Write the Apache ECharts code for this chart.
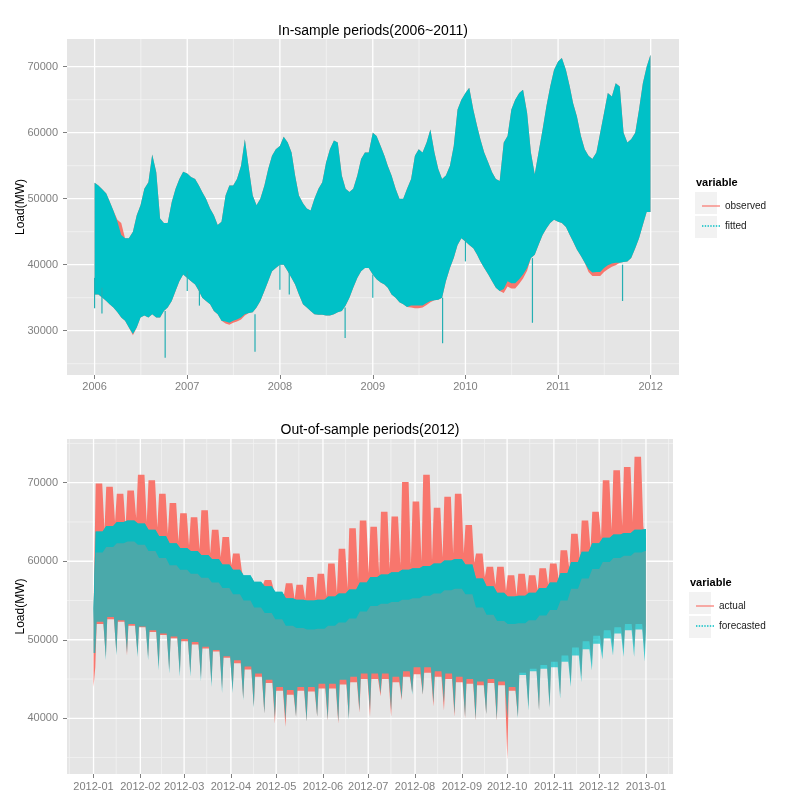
<!DOCTYPE html>
<html><head><meta charset="utf-8">
<script src="https://cdn.jsdelivr.net/npm/echarts@6/dist/echarts.min.js"></script>
<style>html,body{margin:0;padding:0;background:#fff}#c{width:800px;height:800px}</style>
</head><body><div id="c"></div>
<script>
// ---------------- In-sample (2006~2011): envelope of the hourly series, half-month samples ----------------
const topDates = [
'2006-01-01','2006-01-16','2006-02-01','2006-02-16','2006-03-01','2006-03-16','2006-04-01','2006-04-16','2006-05-01','2006-05-16','2006-06-01','2006-06-16','2006-07-01','2006-07-16','2006-08-01','2006-08-16','2006-09-01','2006-09-16','2006-10-01','2006-10-16','2006-11-01','2006-11-16','2006-12-01','2006-12-16',
'2007-01-01','2007-01-16','2007-02-01','2007-02-16','2007-03-01','2007-03-16','2007-04-01','2007-04-16','2007-05-01','2007-05-16','2007-06-01','2007-06-16','2007-07-01','2007-07-16','2007-08-01','2007-08-16','2007-09-01','2007-09-16','2007-10-01','2007-10-16','2007-11-01','2007-11-16','2007-12-01','2007-12-16',
'2008-01-01','2008-01-16','2008-02-01','2008-02-16','2008-03-01','2008-03-16','2008-04-01','2008-04-16','2008-05-01','2008-05-16','2008-06-01','2008-06-16','2008-07-01','2008-07-16','2008-08-01','2008-08-16','2008-09-01','2008-09-16','2008-10-01','2008-10-16','2008-11-01','2008-11-16','2008-12-01','2008-12-16',
'2009-01-01','2009-01-16','2009-02-01','2009-02-16','2009-03-01','2009-03-16','2009-04-01','2009-04-16','2009-05-01','2009-05-16','2009-06-01','2009-06-16','2009-07-01','2009-07-16','2009-08-01','2009-08-16','2009-09-01','2009-09-16','2009-10-01','2009-10-16','2009-11-01','2009-11-16','2009-12-01','2009-12-16',
'2010-01-01','2010-01-16','2010-02-01','2010-02-16','2010-03-01','2010-03-16','2010-04-01','2010-04-16','2010-05-01','2010-05-16','2010-06-01','2010-06-16','2010-07-01','2010-07-16','2010-08-01','2010-08-16','2010-09-01','2010-09-16','2010-10-01','2010-10-16','2010-11-01','2010-11-16','2010-12-01','2010-12-16',
'2011-01-01','2011-01-16','2011-02-01','2011-02-16','2011-03-01','2011-03-16','2011-04-01','2011-04-16','2011-05-01','2011-05-16','2011-06-01','2011-06-16','2011-07-01','2011-07-16','2011-08-01','2011-08-16','2011-09-01','2011-09-16','2011-10-01','2011-10-16','2011-11-01','2011-11-16','2011-12-01','2011-12-16',
'2011-12-31'];
const fitHi = [
52400,52000,51400,50800,49600,48200,46500,44500,44000,44000,45000,47500,49000,51500,52500,56700,54000,47000,46300,46300,49500,51500,53000,54100,
53800,53300,53000,52000,51000,50000,48500,47500,46000,46500,50500,52000,52000,53000,55000,59000,54500,50500,49000,50000,52000,54500,56500,57500,
58000,59400,58500,57000,53500,50500,49300,48500,48200,50000,51500,52500,55500,57500,58800,58500,53500,51500,51000,51500,53500,56000,57000,57000,
60000,59500,58000,56500,55000,53500,51500,50000,50000,51500,53000,56500,57500,57000,58500,60500,57000,54500,53000,53500,55000,58000,63500,65000,
66000,66800,63500,61000,59000,57000,55500,54000,53000,52700,58500,59500,63500,65000,66000,66500,63000,57000,53700,57000,60500,64000,67000,69500,
70800,71300,69500,67000,64500,62500,59500,57500,56500,56000,57000,60000,63000,66000,65500,67500,67000,60000,58500,59000,60000,63500,67500,70000,
71800];
const fitLo = [
35500,35500,35000,34500,34000,33500,32800,32000,31500,30500,29500,30500,32000,32300,32000,32500,32000,32000,33000,33500,34500,36000,37500,38500,
38000,37500,37000,36000,35000,34500,34000,33000,32500,31500,31400,31200,31500,31700,32000,32500,32700,32800,33500,34500,36000,37500,39000,39500,
40000,40000,39000,38000,37000,35500,34000,33500,33000,32500,32400,32400,32300,32300,32500,32800,33000,33800,35000,36500,38000,39000,39500,39500,
38500,37800,37300,37000,36500,35500,35000,34300,34000,33600,33800,33800,33800,33800,34200,34500,34600,34700,35000,37500,39500,41000,43000,44000,
43500,43000,42500,41500,40500,39500,38500,37500,36500,36000,36300,37500,37200,37200,37800,38500,39500,41000,41500,43000,44500,45500,46300,46800,
46500,46300,45700,44500,43500,42300,41300,40300,39300,38800,38900,38900,39500,39900,40200,40300,40300,40400,40500,41000,42500,44000,46000,48000,
48000];
const obsHi = [
52400,52000,51400,50800,49600,48200,46800,46300,44000,44000,45000,47500,49000,51500,52500,56700,54000,47000,46300,46300,49500,51500,53000,54100,
53800,53300,53000,52000,51000,50000,48500,47500,46000,46500,50500,52000,52000,53000,55000,59000,54500,50500,49000,50000,52000,54500,56500,57500,
58000,59400,58500,57000,53500,50500,49300,48500,48200,50000,51500,52500,55500,57500,58800,58500,53500,51500,51000,51500,53500,56000,57000,57000,
60000,59500,58000,56500,55000,53500,51500,50000,50000,51500,53000,56500,57500,57000,58500,60500,57000,54500,53000,53500,55000,58000,63500,65000,
66000,66800,63500,61000,59000,57000,55500,54000,53000,52700,58500,59500,63500,65000,66000,66500,63000,57000,53700,57000,60500,64000,67000,69500,
70800,71300,69500,67000,64500,62500,59500,57500,56500,56000,57000,60000,63000,66000,65500,67500,67000,60000,58500,59000,60000,63500,67500,70000,
71800];
const obsLo = [
35500,35500,35000,34500,34000,33500,32800,32000,31500,30500,29300,30500,32000,32300,32000,32500,32000,32000,33000,33500,34500,36000,37500,38500,
38000,37500,37000,36000,35000,34500,34000,33000,32500,31500,31100,30900,31200,31400,31700,32300,32700,32800,33500,34500,36000,37500,39000,39500,
40000,40000,39000,38000,37000,35500,34000,33500,33000,32500,32400,32400,32300,32300,32500,32800,33000,33800,35000,36500,38000,39000,39500,39500,
38500,37800,37300,37000,36500,35500,35000,34300,34000,33600,33500,33400,33400,33500,33900,34300,34600,34700,35000,37500,39500,41000,43000,44000,
43500,43000,42500,41500,40500,39500,38500,37500,36500,36000,35700,36700,36400,36400,37100,37900,39100,41000,41500,43000,44500,45500,46300,46800,
46500,46300,45700,44500,43500,42300,41300,40300,38900,38300,38300,38300,38900,39300,39700,39900,40300,40400,40500,41000,42500,44000,46000,48000,
48000];
// holiday dips (thin downward spikes)
const topSpikeDates = ['2006-01-01','2006-01-30','2006-10-06','2007-01-01','2007-02-18','2007-09-25','2008-01-01','2008-02-07','2008-09-14','2009-01-01','2009-10-03','2010-01-01','2010-09-22','2011-09-12'];
const topSpikeLo = [33400,32600,25900,36000,33800,26800,36200,35500,28900,35000,28100,40500,31200,34500];
const topSpikeHi = [38000,36500,33000,39000,37000,32500,40000,39000,33500,38500,35000,44000,41000,40000];

// ---------------- Out-of-sample (2012): weekly readings (weeks start on Mondays) ----------------
const weekStarts = ['2012-01-02','2012-01-09','2012-01-16','2012-01-23','2012-01-30','2012-02-06','2012-02-13','2012-02-20','2012-02-27','2012-03-05','2012-03-12','2012-03-19','2012-03-26','2012-04-02','2012-04-09','2012-04-16','2012-04-23','2012-04-30','2012-05-07','2012-05-14','2012-05-21','2012-05-28','2012-06-04','2012-06-11','2012-06-18','2012-06-25','2012-07-02','2012-07-09','2012-07-16','2012-07-23','2012-07-30','2012-08-06','2012-08-13','2012-08-20','2012-08-27','2012-09-03','2012-09-10','2012-09-17','2012-09-24','2012-10-01','2012-10-08','2012-10-15','2012-10-22','2012-10-29','2012-11-05','2012-11-12','2012-11-19','2012-11-26','2012-12-03','2012-12-10','2012-12-17','2012-12-24','2012-12-31'];
const jan1Actual = [44000, 53800];          // Jan 1 holiday: low, high
const jan1Forecast = [48300, 52000, 54000]; // low, dense-core bottom, high
const actHi = [69900,69500,68600,69000,71000,70300,68600,67400,66100,65600,66500,64000,63100,
 61000,58000,57200,57600,55900,57200,57000,58000,58400,59700,61600,64200,65200,
 64400,66300,65700,70100,67600,71000,66800,68200,68600,64600,61000,59300,59300,
 58200,58400,58200,59100,59700,61400,63500,65200,66300,70300,71600,72000,73300,63000];
const actSun = [64000,65000,64500,65500,65000,64300,63500,62500,62000,61500,61000,60500,59500,
 58800,57800,57000,56500,55800,55200,55200,55300,55500,56000,56500,57500,58500,
 58300,59000,59500,59600,60000,60200,60500,61000,61000,59800,58000,57000,56200,
 55700,56000,56300,57000,57600,59000,60300,61500,63000,64000,64500,65000,64500];
const actLow = [52000,52600,52300,51800,51600,51000,50600,50200,49800,49400,48900,48500,47700,
 47000,46200,45300,44500,43500,43000,43500,43400,43800,43800,44300,44600,45000,
 45000,45000,44600,45300,45600,45800,45300,45000,44600,44400,44200,44500,44200,
 43500,45800,46300,46800,47200,48000,49000,49800,50500,51200,51600,52000,52000,52000];
const actDip = [46500,47800,48300,48000,48200,47800,46600,46200,45800,45800,45200,44500,43800,
 43600,42500,41500,40600,39300,38900,40200,39600,40200,39700,39300,40000,40700,
 40200,42800,40200,42300,43300,43000,41500,41000,40200,40000,39700,40500,39700,
 34700,40200,41500,41000,41500,43000,44500,45300,47000,48300,49000,48700,49000,48500];
const fcTop = [63800,64500,65000,65200,64800,64000,63200,62300,61700,61300,60800,60300,59600,
 58900,58200,57400,56800,56100,55300,55100,55000,55100,55500,55900,56400,57300,
 58000,58300,58600,58900,59100,59400,59700,60100,60300,59600,57800,56800,56000,
 55500,55600,56000,56600,57300,58500,59900,61200,62300,63000,63400,63600,64000,64100];
const fcMid = [61100,61800,62300,62500,62100,61300,60400,59500,58900,58400,57900,57300,56600,
 55800,55000,54100,53400,52600,51800,51500,51300,51400,51800,52200,52700,53600,
 54300,54600,54800,55100,55300,55600,55900,56300,56500,55800,54100,53200,52400,
 52000,52100,52500,53100,53800,55000,56500,57800,59000,59900,60400,60700,61100,61300];
const fcLow = [52300,52900,52500,52000,51700,51200,50800,50400,50100,49700,49100,48700,47900,
 47400,46600,45700,44900,44000,43600,44000,44000,44400,44400,44900,45300,45700,
 45700,45700,45300,46000,46500,46500,46000,45700,45300,45000,44700,45000,44700,
 44000,45500,46000,46300,46500,47200,48000,48800,49500,50200,50800,51200,51300,51000];
const fcDip = [48300,47400,48000,48300,47800,47400,46100,45700,45300,45300,44700,44000,43200,
 43200,42300,41300,40600,40000,39800,40200,39600,40200,39800,39600,39800,41000,
 41000,43200,41000,42500,43000,43000,42000,42000,40600,40200,39800,40500,39800,
 40000,40000,41000,41000,41300,42500,44000,44600,46100,47500,48000,47800,47800,47200];

// ---------------- axes ----------------
const yearTicks = ['2006-01-01','2007-01-01','2008-01-01','2009-01-01','2010-01-01','2011-01-01','2012-01-01'];
const yearMinor = ['2006-07-02','2007-07-02','2008-07-02','2009-07-02','2010-07-02','2011-07-02'];
const monthTicks = ['2012-01-01','2012-02-01','2012-03-01','2012-04-01','2012-05-01','2012-06-01','2012-07-01','2012-08-01','2012-09-01','2012-10-01','2012-11-01','2012-12-01','2013-01-01'];
const monthMinor = ['2011-12-16','2012-01-16','2012-02-15','2012-03-16','2012-04-16','2012-05-16','2012-06-16','2012-07-16','2012-08-16','2012-09-16','2012-10-16','2012-11-16','2012-12-16','2013-01-16'];
const yTicksTop = [30000,40000,50000,60000,70000];
const yMinorTop = [25000,35000,45000,55000,65000];
const yTicksBottom = [40000,50000,60000,70000];
const yMinorBottom = [35000,45000,55000,65000,75000];

// ---------------- build ----------------
const FONT = '"Liberation Sans", Arial, sans-serif';
const RED = '#F8766D', CYAN = '#00BFC4';
const HOUR = 3600000, DAY = 24 * HOUR;
const ts = s => { const p = s.split('-').map(Number); return Date.UTC(p[0], p[1] - 1, p[2]); };

const tX = topDates.map(ts);
const pairs = (xs, ys) => xs.map((t, i) => [t, ys[i]]);

const wk = weekStarts.map(ts);
const last = wk.length - 1;
const jan1 = ts('2012-01-01');
function topEdge(hi, sun, first) {
  const p = [[jan1, first]];
  wk.forEach((m, k) => {
    p.push([m + 10 * HOUR, hi[k]]);
    if (k < last) { p.push([m + 4 * DAY + 18 * HOUR, hi[k]]); p.push([m + 6 * DAY + 6 * HOUR, sun[k]]); }
    else p.push([m + 23 * HOUR, hi[k]]);
  });
  return p;
}
function flatEdge(v, first) {
  const p = [[jan1, first]];
  wk.forEach((m, k) => {
    p.push([m + 10 * HOUR, v[k]]);
    p.push([k < last ? m + 5 * DAY : m + 23 * HOUR, v[k]]);
  });
  return p;
}
function lowEdge(low, dip, first) {
  const p = [[jan1, first]];
  wk.forEach((m, k) => {
    p.push([m + 4 * HOUR, dip[k]]);
    if (k < last) { p.push([m + DAY + 2 * HOUR, low[k]]); p.push([m + 5 * DAY + 12 * HOUR, low[k]]); }
    else p.push([m + 23 * HOUR, low[k]]);
  });
  return p;
}

function band(idx, upper, lower, fill, z) {
  const pts = upper.concat(lower.slice().reverse());
  return {
    type: 'custom', xAxisIndex: idx, yAxisIndex: idx, z: z, silent: true, clip: true,
    data: [pts[0]],
    renderItem: function (params, api) {
      return { type: 'polygon', shape: { points: pts.map(p => api.coord(p)) }, style: { fill: fill } };
    }
  };
}
function hLines(idx, vals, xRef, color, w, z) {
  return {
    type: 'custom', xAxisIndex: idx, yAxisIndex: idx, z: z, silent: true,
    data: vals.map(v => [xRef, v]),
    renderItem: function (params, api) {
      const cs = params.coordSys;
      const yy = api.coord([api.value(0), api.value(1)])[1];
      return { type: 'line', shape: { x1: cs.x, y1: yy, x2: cs.x + cs.width, y2: yy }, style: { stroke: color, lineWidth: w } };
    }
  };
}
function vLines(idx, vals, yRef, color, w, z) {
  return {
    type: 'custom', xAxisIndex: idx, yAxisIndex: idx, z: z, silent: true,
    data: vals.map(v => [ts(v), yRef]),
    renderItem: function (params, api) {
      const cs = params.coordSys;
      const xx = api.coord([api.value(0), api.value(1)])[0];
      return { type: 'line', shape: { x1: xx, y1: cs.y, x2: xx, y2: cs.y + cs.height }, style: { stroke: color, lineWidth: w } };
    }
  };
}
function spikes(idx, dates, lo, hi, color, z) {
  return {
    type: 'custom', xAxisIndex: idx, yAxisIndex: idx, z: z, silent: true, clip: true,
    data: dates.map((d, i) => [ts(d), lo[i], hi[i]]),
    renderItem: function (params, api) {
      const a = api.coord([api.value(0), api.value(1)]);
      const b = api.coord([api.value(0), api.value(2)]);
      return { type: 'line', shape: { x1: a[0], y1: a[1], x2: b[0], y2: b[1] }, style: { stroke: color, lineWidth: 1.2 } };
    }
  };
}

const MAJ = '#FFFFFF', MIN = '#F2F2F2';
const axisLbl = { color: '#7F7F7F', fontSize: 11, fontFamily: FONT };
const tick = { show: true, length: 4, lineStyle: { color: '#7F7F7F', width: 1 } };
const pad2 = n => (n < 10 ? '0' + n : '' + n);

// legend key glyphs: a solid and a dotted horizontal stroke
const SOLID_ICON = 'path://M0,0H18V1.2H0Z';
let dots = '';
for (let x = 0; x < 18; x += 2.6) dots += 'M' + x + ',0H' + (x + 1.3) + 'V1.2H' + x + 'Z';
const DOT_ICON = 'path://' + dots;

const topXMin = Date.UTC(2005, 8, 14, 7), topXMax = Date.UTC(2012, 3, 21, 10);
const botXMin = Date.UTC(2011, 11, 14, 10), botXMax = Date.UTC(2013, 0, 18, 22);

const yName = { name: 'Load(MW)', nameLocation: 'middle', nameGap: 40, nameRotate: 90, nameMoveOverlap: false,
  nameTextStyle: { fontSize: 12, color: '#000', fontFamily: FONT } };
const legendText = { fontSize: 10, color: '#1A1A1A', fontFamily: FONT };

const option = {
  animation: false,
  backgroundColor: '#FFFFFF',
  grid: [
    { left: 67, top: 39, width: 612, height: 336, show: true, backgroundColor: '#E5E5E5', borderWidth: 0, containLabel: false, outerBoundsMode: 'none' },
    { left: 67, top: 439, width: 606, height: 335, show: true, backgroundColor: '#E5E5E5', borderWidth: 0, containLabel: false, outerBoundsMode: 'none' }
  ],
  xAxis: [
    { type: 'value', gridIndex: 0, min: topXMin, max: topXMax, scale: true,
      axisLine: { show: false }, splitLine: { show: false },
      axisTick: Object.assign({ customValues: yearTicks.map(ts) }, tick),
      axisLabel: Object.assign({ customValues: yearTicks.map(ts), margin: 6,
        formatter: v => String(new Date(v).getUTCFullYear()) }, axisLbl) },
    { type: 'value', gridIndex: 1, min: botXMin, max: botXMax, scale: true,
      axisLine: { show: false }, splitLine: { show: false },
      axisTick: Object.assign({ customValues: monthTicks.map(ts) }, tick),
      axisLabel: Object.assign({ customValues: monthTicks.map(ts), margin: 7,
        formatter: v => { const d = new Date(v); return d.getUTCFullYear() + '-' + pad2(d.getUTCMonth() + 1); } }, axisLbl) }
  ],
  yAxis: [
    Object.assign({ type: 'value', gridIndex: 0, min: 23288, max: 74197,
      axisLine: { show: false }, splitLine: { show: false },
      axisTick: Object.assign({ customValues: yTicksTop }, tick),
      axisLabel: Object.assign({ customValues: yTicksTop, margin: 9, formatter: v => String(v) }, axisLbl) }, yName),
    Object.assign({ type: 'value', gridIndex: 1, min: 32907, max: 75565,
      axisLine: { show: false }, splitLine: { show: false },
      axisTick: Object.assign({ customValues: yTicksBottom }, tick),
      axisLabel: Object.assign({ customValues: yTicksBottom, margin: 9, formatter: v => String(v) }, axisLbl) }, yName)
  ],
  legend: [
    { data: [{ name: 'observed', icon: SOLID_ICON }, { name: 'fitted', icon: DOT_ICON }], orient: 'vertical', left: 697, top: 196,
      itemWidth: 18, itemHeight: 14, itemGap: 10, symbolKeepAspect: true, selectedMode: false, textStyle: legendText },
    { data: [{ name: 'actual', icon: SOLID_ICON }, { name: 'forecasted', icon: DOT_ICON }], orient: 'vertical', left: 691, top: 596,
      itemWidth: 18, itemHeight: 14, itemGap: 10, symbolKeepAspect: true, selectedMode: false, textStyle: legendText }
  ],
  graphic: [
    { type: 'rect', z: -1, shape: { x: 695, y: 192, width: 22, height: 22 }, style: { fill: '#F2F2F2' } },
    { type: 'rect', z: -1, shape: { x: 695, y: 216, width: 22, height: 22 }, style: { fill: '#F2F2F2' } },
    { type: 'rect', z: -1, shape: { x: 689, y: 592, width: 22, height: 22 }, style: { fill: '#F2F2F2' } },
    { type: 'rect', z: -1, shape: { x: 689, y: 616, width: 22, height: 22 }, style: { fill: '#F2F2F2' } },
    { type: 'text', x: 373, y: 31, style: { text: 'In-sample periods(2006~2011)', font: '14px ' + FONT, fill: '#000', align: 'center', verticalAlign: 'middle', textAlign: 'center', textVerticalAlign: 'middle' } },
    { type: 'text', x: 370, y: 430, style: { text: 'Out-of-sample periods(2012)', font: '14px ' + FONT, fill: '#000', align: 'center', verticalAlign: 'middle', textAlign: 'center', textVerticalAlign: 'middle' } },
    { type: 'text', x: 696, y: 183, style: { text: 'variable', font: 'bold 11px ' + FONT, fill: '#000', verticalAlign: 'middle', textVerticalAlign: 'middle' } },
    { type: 'text', x: 690, y: 583, style: { text: 'variable', font: 'bold 11px ' + FONT, fill: '#000', verticalAlign: 'middle', textVerticalAlign: 'middle' } }
  ],
  series: [
    hLines(0, yMinorTop, topXMin, MIN, 0.8, 1), vLines(0, yearMinor, 50000, MIN, 0.8, 1),
    hLines(0, yTicksTop, topXMin, MAJ, 1.3, 1), vLines(0, yearTicks, 50000, MAJ, 1.3, 1),
    hLines(1, yMinorBottom, botXMin, MIN, 0.8, 1), vLines(1, monthMinor, 50000, MIN, 0.8, 1),
    hLines(1, yTicksBottom, botXMin, MAJ, 1.3, 1), vLines(1, monthTicks, 50000, MAJ, 1.3, 1),
    band(0, pairs(tX, obsHi), pairs(tX, obsLo), RED, 2),
    band(0, pairs(tX, fitHi), pairs(tX, fitLo), '#00C1C7', 3),
    spikes(0, topSpikeDates, topSpikeLo, topSpikeHi, '#25AFB3', 4),
    band(1, topEdge(actHi, actSun, jan1Actual[1]), lowEdge(actLow, actDip, jan1Actual[0]), RED, 2),
    band(1, flatEdge(fcTop, jan1Forecast[2]), lowEdge(fcLow, fcDip, jan1Forecast[0]), 'rgba(0,191,196,0.7)', 3),
    band(1, flatEdge(fcTop, jan1Forecast[2]), flatEdge(fcMid, jan1Forecast[1]), '#0DB9BE', 4),
    { type: 'line', name: 'observed', xAxisIndex: 0, yAxisIndex: 0, data: [], symbol: 'none', lineStyle: { color: RED, width: 1 }, itemStyle: { color: RED } },
    { type: 'line', name: 'fitted', xAxisIndex: 0, yAxisIndex: 0, data: [], symbol: 'none', lineStyle: { color: CYAN, width: 1, type: 'dotted' }, itemStyle: { color: CYAN } },
    { type: 'line', name: 'actual', xAxisIndex: 1, yAxisIndex: 1, data: [], symbol: 'none', lineStyle: { color: RED, width: 1 }, itemStyle: { color: RED } },
    { type: 'line', name: 'forecasted', xAxisIndex: 1, yAxisIndex: 1, data: [], symbol: 'none', lineStyle: { color: CYAN, width: 1, type: 'dotted' }, itemStyle: { color: CYAN } }
  ]
};
const chart = echarts.init(document.getElementById('c'), null, { renderer: 'canvas' });
chart.setOption(option);
</script></body></html>
